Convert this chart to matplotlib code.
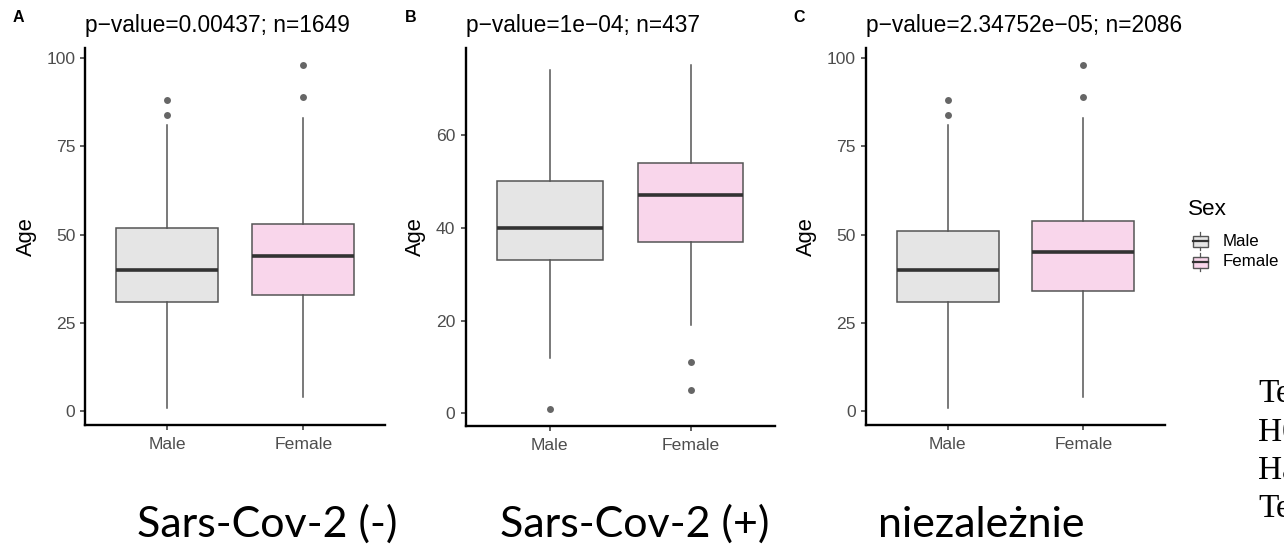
import matplotlib
matplotlib.use("Agg")
import matplotlib.pyplot as plt
from matplotlib.patches import Rectangle
from matplotlib.lines import Line2D

# ---------------------------------------------------------------- data
panel_letters = ["A", "B", "C"]
panel_titles = [
    "p\u2212value=0.00437; n=1649",
    "p\u2212value=1e\u221204; n=437",
    "p\u2212value=2.34752e\u221205; n=2086",
]
captions = ["Sars-Cov-2 (-)", "Sars-Cov-2 (+)", "niezale\u017cnie"]
sexes = ["Male", "Female"]

# five-number summaries per panel, order: Male, Female
whisker_low = [[1, 4], [12, 19], [1, 4]]
quart_1 = [[31, 33], [33, 37], [31, 34]]
medians = [[40, 44], [40, 47], [40, 45]]
quart_3 = [[52, 53], [50, 54], [51, 54]]
whisker_high = [[81, 83], [74, 75], [81, 83]]
outliers = [
    [[84, 88], [89, 98]],
    [[1], [5, 11]],
    [[84, 88], [89, 98]],
]
y_ticks = [[0, 25, 50, 75, 100], [0, 20, 40, 60], [0, 25, 50, 75, 100]]

side_lines = ["Te", "H0", "Ha", "Te"]

# ---------------------------------------------------------------- style
W, H = 1284, 548
fills = ["#E5E5E5", "#F9D6EB"]
edge = "#555555"
median_col = "#333333"
tick_col = "#4D4D4D"
sans = ["Liberation Sans", "DejaVu Sans"]

plt.rcParams["font.family"] = sans

fig = plt.figure(figsize=(W / 100, H / 100), dpi=100)
fig.patch.set_facecolor("white")

# panel frames in pixels: (left, right, top, bottom)
frames = [(85.5, 385, 48, 425), (465.5, 775, 48, 426), (866, 1165, 48, 425)]
letter_x = [13, 405, 793]


def add_px_axes(left, right, top, bottom):
    return fig.add_axes([left / W, 1 - bottom / H, (right - left) / W, (bottom - top) / H])


for i in range(3):
    left, right, top, bottom = frames[i]
    ax = add_px_axes(left, right, top, bottom)
    stats = []
    for j in range(2):
        stats.append(dict(
            whislo=whisker_low[i][j], q1=quart_1[i][j], med=medians[i][j],
            q3=quart_3[i][j], whishi=whisker_high[i][j], fliers=outliers[i][j],
        ))
    art = ax.bxp(
        stats, positions=[1, 2], widths=0.75, patch_artist=True, showcaps=False,
        boxprops=dict(edgecolor=edge, linewidth=1.1),
        medianprops=dict(color=median_col, linewidth=2.6, solid_capstyle="butt"),
        whiskerprops=dict(color=edge, linewidth=1.1),
        flierprops=dict(marker="o", markerfacecolor="#666666",
                        markeredgecolor="none", markersize=5),
    )
    for patch, fc in zip(art["boxes"], fills):
        patch.set_facecolor(fc)

    all_vals = whisker_low[i] + whisker_high[i] + [v for f in outliers[i] for v in f]
    lo, hi = min(all_vals), max(all_vals)
    span = hi - lo
    ax.set_ylim(lo - 0.05 * span, hi + 0.05 * span)
    ax.set_xlim(0.4, 2.6)
    ax.set_xticks([1, 2], sexes)
    ax.set_yticks(y_ticks[i], [str(t) for t in y_ticks[i]])

    for s in ("top", "right"):
        ax.spines[s].set_visible(False)
    for s in ("left", "bottom"):
        ax.spines[s].set_linewidth(1.7)
        ax.spines[s].set_color("black")
    ax.tick_params(axis="both", length=3.8, width=1.1, color="#333333",
                   labelcolor=tick_col, labelsize=12.6, pad=3.6)
    ax.tick_params(axis="x", pad=4.5)
    ax.set_ylabel("Age", fontsize=15.8, labelpad=7)
    ax.set_facecolor("white")

    fig.text(left / W, 1 - 32 / H, panel_titles[i], fontsize=16.4, va="baseline", ha="left")
    fig.text(letter_x[i] / W, 1 - 21.7 / H, panel_letters[i], fontsize=11.5,
             fontweight="bold", va="baseline", ha="left")

# overlay in pixel coordinates (origin top-left) for legend and slide text
ov = fig.add_axes([0, 0, 1, 1])
ov.set_xlim(0, W)
ov.set_ylim(H, 0)
ov.axis("off")

# legend
ov.text(1188, 215, "Sex", fontsize=16.2, va="baseline", ha="left")
key_centres = [241, 262]
for lab, fc, cy in zip(sexes, fills, key_centres):
    ov.add_patch(Rectangle((1192.5, cy - 5.5), 15, 11, facecolor=fc,
                           edgecolor=edge, linewidth=1.0))
    ov.add_line(Line2D([1192.5, 1207.5], [cy, cy], color=median_col, linewidth=1.6))
    ov.add_line(Line2D([1200, 1200], [cy - 9, cy - 5.5], color=edge, linewidth=0.9))
    ov.add_line(Line2D([1200, 1200], [cy + 5.5, cy + 9], color=edge, linewidth=0.9))
    ov.text(1223, cy, lab, fontsize=12.2, va="center", ha="left")

# captions under the panels
caption_x = [137, 500, 878]
for cx, txt in zip(caption_x, captions):
    ov.text(cx, 537, txt, fontsize=31, va="baseline", ha="left",
            family=["Lato", "DejaVu Sans"], color="black")

# serif lines running off the right edge
side_baselines = [401.7, 441, 479, 516.7]
for yb, txt in zip(side_baselines, side_lines):
    ov.text(1258, yb, txt, fontsize=24, va="baseline", ha="left",
            family=["Liberation Serif", "DejaVu Serif"], color="black")

fig.savefig("out.png", dpi=100)
